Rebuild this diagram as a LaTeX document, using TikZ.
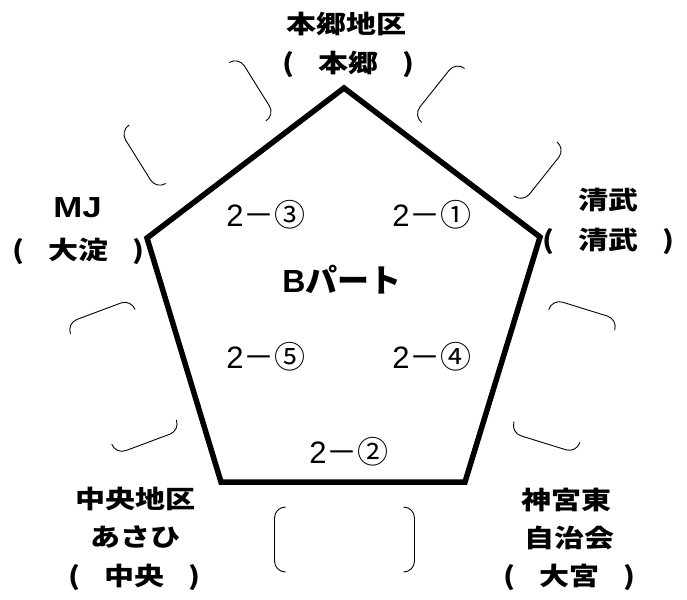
\documentclass[tikz,border=0pt]{standalone}
\usepackage{fontspec}
\usepackage{graphicx}
\setmainfont{Liberation Sans}
\newfontfamily\jp{Noto Sans CJK JP}
\newcommand\widetxt[1]{\scalebox{1.2}[1]{#1}}
\tikzset{
  brk/.style={line width=0.9pt, rounded corners=11pt},
  brpair/.pic={
    \draw[brk] (-59,-#1) -- (-70,-#1) -- (-70,#1) -- (-59,#1);
    \draw[brk] (59,-#1) -- (70,-#1) -- (70,#1) -- (59,#1);
  },
  lbl/.style={font=\jp\bfseries\fontsize{25}{30}\selectfont, inner sep=0pt},
  ilbl/.style={font=\fontsize{31}{36}\selectfont, inner sep=0pt},
  edge/.style={line width=5.5pt, line join=miter}
}
\begin{document}
\begin{tikzpicture}[x=1pt,y=-1pt]
\path[use as bounding box, fill=white] (0,0) rectangle (687,599);
% pentagon
\coordinate (T) at (344,88);
\coordinate (R) at (540,237);
\coordinate (BR) at (465,482);
\coordinate (BL) at (221,482);
\coordinate (L) at (147,238);
\draw[edge] (T) -- (R) -- (BR) -- (BL) -- (L) -- cycle;
% bracket pairs
\pic[rotate=32] at (197.5,123) {brpair=34.5};
\pic[rotate=-38.5] at (489.3,132.2) {brpair=34.5};
\pic[rotate=-69.5] at (123.4,376.8) {brpair=34.5};
\pic[rotate=-107.2] at (564.3,376) {brpair=34.5};
\pic at (344.5,539.5) {brpair=32.5};
% outer labels
\node[lbl] (t1) at (346,24) {\widetxt{本郷地区}};
\node[lbl] (t2) at (348.5,64) {\widetxt{(\hspace{20pt}本郷\hspace{20pt})}};
\node[lbl, font=\rmfamily\bfseries\fontsize{29}{34}\selectfont] (l1) at (77.5,208) {\widetxt{MJ}};
\node[lbl] (l2) at (78.5,251) {\widetxt{(\hspace{20pt}大淀\hspace{20pt})}};
\node[lbl] (r1) at (608,200) {\widetxt{清武}};
\node[lbl] (r2) at (608.5,241.5) {\widetxt{(\hspace{20pt}清武\hspace{20pt})}};
\node[lbl] (bl1) at (135,499) {\widetxt{中央地区}};
\node[lbl] (bl2) at (135.4,537.5) {\widetxt{あさひ}};
\node[lbl] (bl3) at (134,577.5) {\widetxt{(\hspace{20pt}中央\hspace{20pt})}};
\node[lbl] (br1) at (566,500) {\widetxt{神宮東}};
\node[lbl] (br2) at (569,537.5) {\widetxt{自治会}};
\node[lbl] (br3) at (569,577.5) {\widetxt{(\hspace{20pt}大宮\hspace{20pt})}};
% inner labels
\node[ilbl] (p3) at (266,215) {2{\jp －③}};
\node[ilbl] (p1) at (432,215) {2{\jp －①}};
\node[ilbl] (p5) at (266,357) {2{\jp －⑤}};
\node[ilbl] (p4) at (432,357) {2{\jp －④}};
\node[ilbl] (p2) at (349,452) {2{\jp －②}};
\node[font=\bfseries\fontsize{32}{38}\selectfont, inner sep=0pt] (bp) at (342,280) {B{\jp パート}};
\end{tikzpicture}
\end{document}
